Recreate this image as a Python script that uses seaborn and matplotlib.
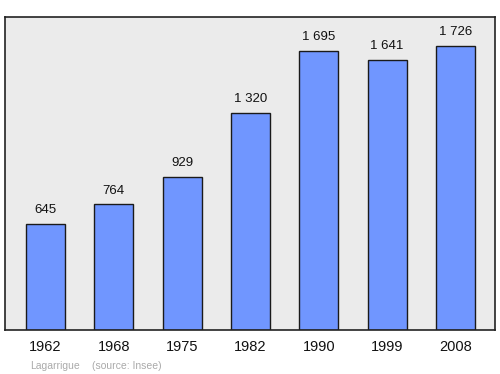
import matplotlib
matplotlib.use("Agg")
import matplotlib.pyplot as plt
import seaborn as sns
import pandas as pd

years = ["1962", "1968", "1975", "1982", "1990", "1999", "2008"]
population = [645, 764, 929, 1320, 1695, 1641, 1726]
value_labels = ["645", "764", "929", "1 320", "1 695", "1 641", "1 726"]
commune = "Lagarrigue"
source = "(source: Insee)"

sns.set_style("white")
plt.rcParams["font.family"] = ["Liberation Sans", "DejaVu Sans"]

df = pd.DataFrame({"year": years, "pop": population})

fig = plt.figure(figsize=(5.0, 3.74), dpi=100)
ax = fig.add_axes([5/500, 1 - 330/374, 490/500, (330-17)/374])
ax.set_facecolor("#ebebeb")

sns.barplot(data=df, x="year", y="pop", color="#7096ff", saturation=1,
            width=0.57, edgecolor="#1a1a1a", linewidth=1.0, ax=ax)

for i, (v, lab) in enumerate(zip(population, value_labels)):
    ax.annotate(lab, (i, v), xytext=(0, 5.5), textcoords="offset points",
                ha="center", va="bottom", fontsize=9.5, color="#111111")

ax.set_xlim(-0.593, 6.578)
ax.set_ylim(0, 1900)
ax.set_yticks([])
ax.set_xlabel("")
ax.set_ylabel("")
ax.tick_params(axis="x", length=0, labelsize=10.5, pad=7.5, colors="#111111")
for s in ax.spines.values():
    s.set_color("#222222")
    s.set_linewidth(1.2)

fig.text(30/500, 1 - 366/374, commune, fontsize=7.5, color="#aaaaaa", va="center")
fig.text(92/500, 1 - 366/374, source, fontsize=7.5, color="#aaaaaa", va="center")

fig.savefig("out.png", dpi=100)
